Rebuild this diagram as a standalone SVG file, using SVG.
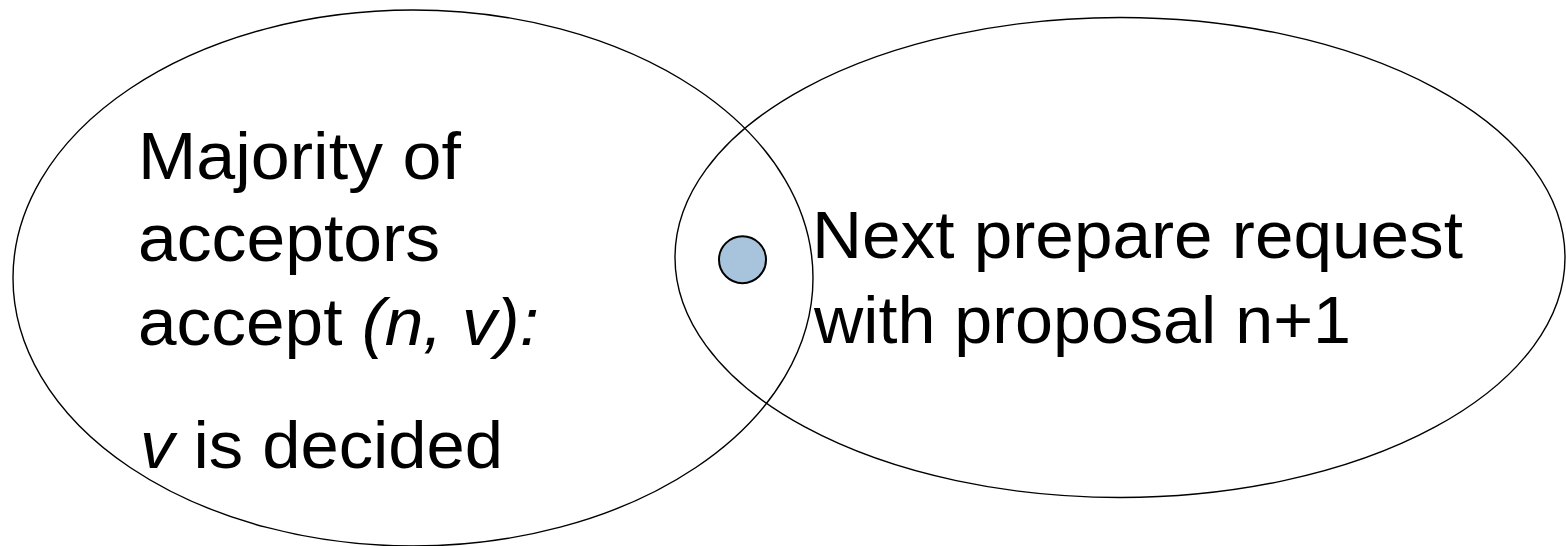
<svg xmlns="http://www.w3.org/2000/svg" width="1566" height="546" viewBox="0 0 1566 546">
<style>
.set{fill:none;stroke:#000;stroke-width:1.4}
.lbl{font-family:"Liberation Sans",Arial,sans-serif;font-size:66px;fill:#000}
.it{font-style:italic}
</style>
<rect width="1566" height="546" fill="#fff"/>
<g id="left-set">
<ellipse class="set" cx="413" cy="278" rx="400" ry="268"/>
<text class="lbl" x="138" y="179" textLength="323" lengthAdjust="spacingAndGlyphs">Majority of</text>
<text class="lbl" x="138" y="261" textLength="302" lengthAdjust="spacingAndGlyphs">acceptors</text>
<text class="lbl" x="138" y="345" textLength="401" lengthAdjust="spacingAndGlyphs">accept<tspan class="it"> (n, v):</tspan></text>
<text class="lbl" x="140" y="468" textLength="363" lengthAdjust="spacingAndGlyphs"><tspan class="it">v</tspan> is decided</text>
</g>
<g id="right-set">
<ellipse class="set" cx="1120" cy="257.5" rx="445" ry="240"/>
<text class="lbl" x="812" y="258" textLength="651" lengthAdjust="spacingAndGlyphs">Next prepare request</text>
<text class="lbl" x="814" y="343" textLength="537" lengthAdjust="spacingAndGlyphs">with proposal n+1</text>
</g>
<g id="acceptor">
<circle cx="742.5" cy="259.7" r="23.5" fill="#a7c4dc" stroke="#000" stroke-width="2"/>
</g>
<g id="connectors"/>
</svg>
